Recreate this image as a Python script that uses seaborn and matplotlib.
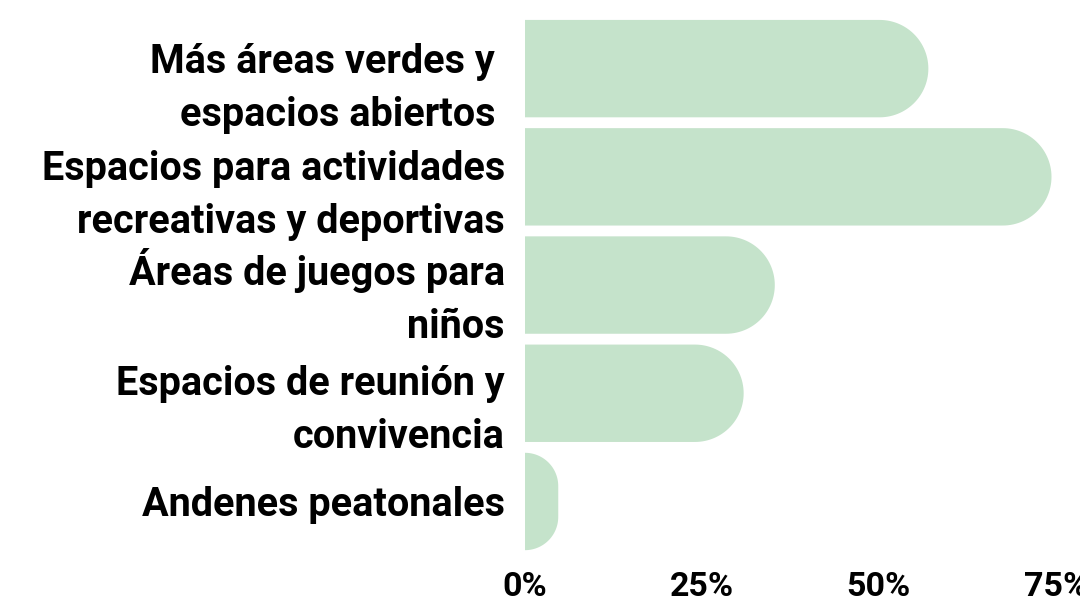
import matplotlib
matplotlib.use("Agg")
import matplotlib.pyplot as plt
import numpy as np
import pandas as pd
import seaborn as sns
from matplotlib.patches import Polygon
from matplotlib.ticker import FuncFormatter
from matplotlib.transforms import ScaledTranslation

# Survey categories and share of responses (%)
categories = [
    "Más áreas verdes y \nespacios abiertos ",
    "Espacios para actividades\nrecreativas y deportivas",
    "Áreas de juegos para\nniños",
    "Espacios de reunión y\nconvivencia",
    "Andenes peatonales",
]
shares = [57.0, 74.4, 35.3, 30.9, 4.7]
x_ticks = [0, 25, 50, 75]

BAR_COLOR = "#c5e3cb"
# downward nudge (pixels) of each category label relative to its bar centre
LABEL_NUDGE = [8, 7, 0, 6, 0]

sns.set_theme(style="white")
plt.rcParams["font.family"] = ["Roboto", "DejaVu Sans"]

df = pd.DataFrame({"categoria": categories, "porcentaje": shares})

fig = plt.figure(figsize=(10.8, 6.15), dpi=100)
ax = fig.add_axes([0.4861, 0.0966, 0.5111, 0.8798])

sns.barplot(data=df, x="porcentaje", y="categoria", orient="h",
            color=BAR_COLOR, width=0.9, saturation=1, ax=ax)

ax.set_xlim(0, 78)
ax.set_ylim(len(categories) - 0.5, -0.5)

# Replace each rectangular bar with one whose right end is rounded
to_px = ax.transData
to_data = ax.transData.inverted()
bars = list(ax.patches)
for bar in bars:
    x0, y0 = bar.get_x(), bar.get_y()
    w, h = bar.get_width(), bar.get_height()
    (px0, py0), (px1, py1) = to_px.transform([(x0, y0), (x0 + w, y0 + h)])
    left, right = min(px0, px1), max(px0, px1)
    bottom, top = min(py0, py1), max(py0, py1)
    r = min(right - left, (top - bottom) / 2)
    pts = [(left, bottom), (right - r, bottom)]
    for a in np.linspace(-np.pi / 2, 0, 30):
        pts.append((right - r + r * np.cos(a), bottom + r + r * np.sin(a)))
    for a in np.linspace(0, np.pi / 2, 30):
        pts.append((right - r + r * np.cos(a), top - r + r * np.sin(a)))
    pts.append((left, top))
    poly = Polygon(to_data.transform(pts), closed=True,
                   facecolor=bar.get_facecolor(), edgecolor="none")
    bar.remove()
    ax.add_patch(poly)

for s in ax.spines.values():
    s.set_visible(False)
ax.grid(False)
ax.set_xlabel("")
ax.set_ylabel("")

ax.set_xticks(x_ticks)
ax.xaxis.set_major_formatter(FuncFormatter(lambda v, _: f"{v:.0f}%"))
ax.tick_params(axis="x", length=0, pad=11, labelsize=24.5, labelcolor="black")
ax.tick_params(axis="y", length=0, pad=14.4, labelsize=28.5, labelcolor="black")

for lab in ax.get_xticklabels():
    lab.set_fontweight("bold")
for lab, nudge in zip(ax.get_yticklabels(), LABEL_NUDGE):
    lab.set_fontweight("bold")
    lab.set_linespacing(1.5)
    lab.set_transform(lab.get_transform() +
                      ScaledTranslation(0, -nudge / 100, fig.dpi_scale_trans))

fig.savefig("out.png", dpi=100, facecolor="white")
